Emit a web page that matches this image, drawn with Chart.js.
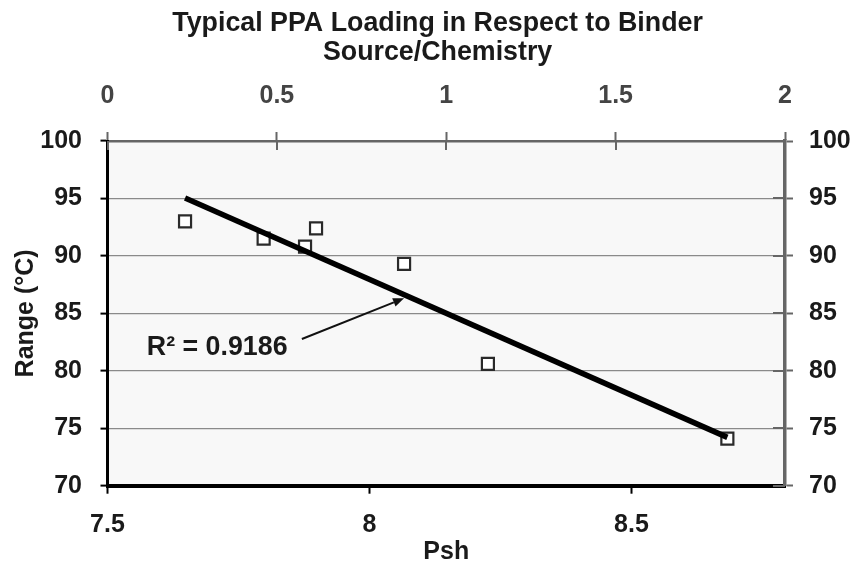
<!DOCTYPE html>
<html><head><meta charset="utf-8">
<script src="https://cdn.jsdelivr.net/npm/chart.js@4/dist/chart.umd.min.js"></script>
<style>html,body{margin:0;padding:0;background:#fff;} canvas{display:block;}</style>
</head><body>
<canvas id="c" width="854" height="567"></canvas>
<script>
// ---- data ----
const titleLines = ['Typical PPA Loading in Respect to Binder', 'Source/Chemistry'];
const pshValues = [7.648, 7.798, 7.877, 7.898, 8.066, 8.226, 8.683];
const rangeValues = [93.0, 91.5, 90.8, 92.4, 89.3, 80.6, 74.1];
const bottomTicks = [7.5, 8, 8.5];
const topTicks = [0, 0.5, 1, 1.5, 2];
const yTicks = [70, 75, 80, 85, 90, 95, 100];
const r2Label = 'R² = 0.9186';
const xTitle = 'Psh';
const yTitle = 'Range (°C)';
// annotation anchors in data coordinates (bottom / left axes)
const r2Anchor = {x: 7.575, y: 82.0};
const arrowFrom = {x: 7.871, y: 82.77};
const arrowTo = {x: 8.066, y: 86.31};

// ---- least squares trendline from data ----
function linearFit(xs, ys) {
  const n = xs.length;
  const mx = xs.reduce((a, b) => a + b, 0) / n;
  const my = ys.reduce((a, b) => a + b, 0) / n;
  let sxy = 0, sxx = 0;
  for (let i = 0; i < n; i++) { sxy += (xs[i] - mx) * (ys[i] - my); sxx += (xs[i] - mx) ** 2; }
  const slope = sxy / sxx;
  return {slope, intercept: my - slope * mx};
}
const fit = linearFit(pshValues, rangeValues);
const xLo = Math.min(...pshValues), xHi = Math.max(...pshValues);
const trendData = [xLo, xHi].map(x => ({x, y: fit.intercept + fit.slope * x}));

const FONT = '"Liberation Sans", Arial, Helvetica, sans-serif';
const TXT = '#1a1a1a';
const tickFont = {family: FONT, size: 25, weight: 'bold', lineHeight: 1.2};
const plain = v => String(v);

const bgPlugin = {
  id: 'bg',
  beforeDraw(chart) {
    const a = chart.chartArea, ctx = chart.ctx;
    ctx.save();
    ctx.fillStyle = '#f8f8f8';
    ctx.fillRect(a.left, a.top, a.right - a.left, a.bottom - a.top);
    ctx.restore();
  }
};

// title drawn in the space reserved by layout.padding.top
const titlePlugin = {
  id: 'titleText',
  afterDraw(chart) {
    const ctx = chart.ctx;
    ctx.save();
    ctx.fillStyle = TXT;
    ctx.font = 'bold 26.8px ' + FONT;
    ctx.textAlign = 'center';
    ctx.textBaseline = 'middle';
    const cx = chart.width * 0.5124;
    titleLines.forEach((t, i) => ctx.fillText(t, cx, 24 + i * 29));
    ctx.restore();
  }
};

const crossTicks = {
  id: 'crossTicks',
  afterDraw(chart) {
    const a = chart.chartArea, ctx = chart.ctx;
    ctx.save();
    ctx.strokeStyle = '#666';
    ctx.lineWidth = 2;
    const x2 = chart.scales.x2;
    topTicks.forEach(v => {
      const px = Math.round(x2.getPixelForValue(v));
      ctx.beginPath(); ctx.moveTo(px, a.top); ctx.lineTo(px, a.top + 9); ctx.stroke();
    });
    const y2 = chart.scales.y2;
    yTicks.forEach(v => {
      const py = Math.round(y2.getPixelForValue(v));
      ctx.beginPath(); ctx.moveTo(a.right - 12, py); ctx.lineTo(a.right, py); ctx.stroke();
    });
    ctx.restore();
  }
};

const annot = {
  id: 'annot',
  afterDatasetsDraw(chart) {
    const ctx = chart.ctx, xs = chart.scales.x, ys = chart.scales.y;
    ctx.save();
    ctx.fillStyle = TXT;
    ctx.font = 'bold 26.8px ' + FONT;
    ctx.textAlign = 'left';
    ctx.textBaseline = 'middle';
    ctx.fillText(r2Label, xs.getPixelForValue(r2Anchor.x), ys.getPixelForValue(r2Anchor.y));
    const x0 = xs.getPixelForValue(arrowFrom.x), y0 = ys.getPixelForValue(arrowFrom.y);
    const x1 = xs.getPixelForValue(arrowTo.x), y1 = ys.getPixelForValue(arrowTo.y);
    const ang = Math.atan2(y1 - y0, x1 - x0);
    const hl = 11, hw = 4.5;
    const bx = x1 - hl * Math.cos(ang), by = y1 - hl * Math.sin(ang);
    ctx.strokeStyle = '#111';
    ctx.lineWidth = 2;
    ctx.beginPath(); ctx.moveTo(x0, y0); ctx.lineTo(bx, by); ctx.stroke();
    ctx.fillStyle = '#111';
    ctx.beginPath();
    ctx.moveTo(x1, y1);
    ctx.lineTo(bx + hw * Math.sin(ang), by - hw * Math.cos(ang));
    ctx.lineTo(bx - hw * Math.sin(ang), by + hw * Math.cos(ang));
    ctx.closePath(); ctx.fill();
    ctx.restore();
  }
};

new Chart(document.getElementById('c'), {
  type: 'scatter',
  data: {
    datasets: [
      {type: 'line', label: 'Trend', data: trendData, borderColor: '#000', borderWidth: 5.5,
       pointRadius: 0, pointHoverRadius: 0, fill: false, order: 0, xAxisID: 'x', yAxisID: 'y'},
      {label: 'Range', data: pshValues.map((x, i) => ({x, y: rangeValues[i]})),
       pointStyle: 'rect', pointRadius: 8.5, pointHoverRadius: 8.5,
       backgroundColor: '#ffffff', borderColor: '#2a2a2a', borderWidth: 2.2, order: 1, xAxisID: 'x', yAxisID: 'y'}
    ]
  },
  options: {
    responsive: false, animation: false, devicePixelRatio: 1,
    layout: {padding: {top: 67.5, left: 0, right: 0, bottom: 0}},
    plugins: {
      legend: {display: false}, tooltip: {enabled: false},
      title: {display: false}
    },
    scales: {
      x: {
        type: 'linear', position: 'bottom', min: 7.5, max: 8.793,
        afterBuildTicks: s => { s.ticks = bottomTicks.map(v => ({value: v})); },
        afterFit: s => { s.height = 81.3; },
        grid: {display: true, drawOnChartArea: false, tickLength: 8, tickColor: '#000', tickWidth: 2},
        border: {display: true, color: '#000', width: 4},
        ticks: {font: tickFont, color: TXT, padding: 16.8, maxRotation: 0, autoSkip: false, callback: plain},
        title: {display: true, text: xTitle, color: TXT, font: tickFont, padding: {top: 0, bottom: 0}}
      },
      x2: {
        type: 'linear', position: 'top', min: 0, max: 2,
        afterBuildTicks: s => { s.ticks = topTicks.map(v => ({value: v})); },
        afterFit: s => { s.height = 73.5; },
        grid: {display: true, drawOnChartArea: false, tickLength: 9, tickColor: '#666', tickWidth: 2},
        border: {display: true, color: '#666', width: 2.5},
        ticks: {font: tickFont, color: '#444', padding: 20.5, maxRotation: 0, autoSkip: false, callback: plain}
      },
      y: {
        type: 'linear', position: 'left', min: 70, max: 100,
        afterBuildTicks: s => { s.ticks = yTicks.map(v => ({value: v})); },
        afterFit: s => { s.width = 107.5; },
        grid: {display: true, color: '#8a8a8a', lineWidth: 1.2, tickLength: 7, tickColor: '#000', tickWidth: 2},
        border: {display: true, color: '#000', width: 3},
        ticks: {font: tickFont, color: TXT, padding: 18.5, autoSkip: false, callback: plain},
        title: {display: true, text: yTitle, color: TXT, font: tickFont, padding: {top: 11, bottom: 0}}
      },
      y2: {
        type: 'linear', position: 'right', min: 70, max: 100,
        afterBuildTicks: s => { s.ticks = yTicks.map(v => ({value: v})); },
        afterFit: s => { s.width = 69; },
        grid: {display: true, drawOnChartArea: false, tickLength: 8, tickColor: '#666', tickWidth: 2},
        border: {display: true, color: '#666', width: 3.5},
        ticks: {font: tickFont, color: TXT, padding: 16, autoSkip: false, callback: plain}
      }
    }
  },
  plugins: [bgPlugin, crossTicks, annot, titlePlugin]
});
</script>
</body></html>
